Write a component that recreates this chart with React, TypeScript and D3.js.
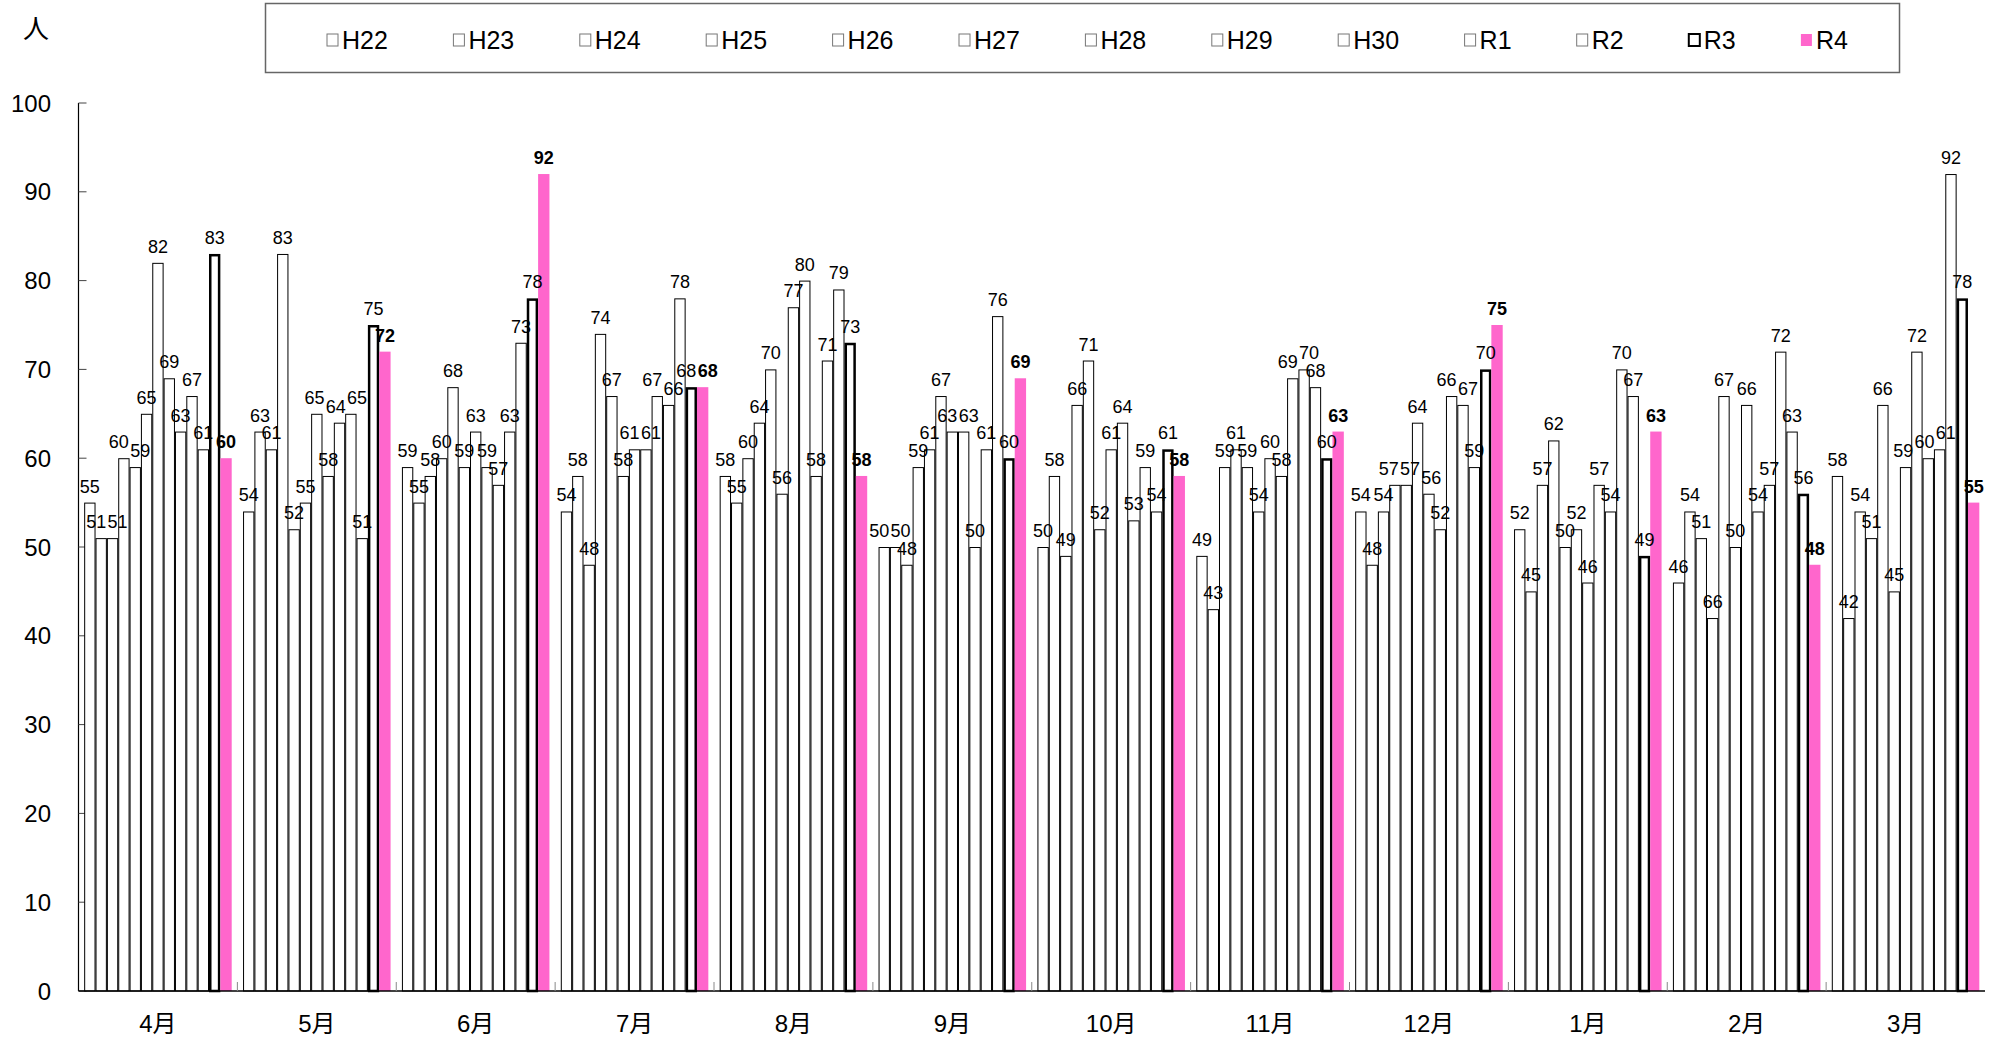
import * as d3 from "d3";

const months = ["4月", "5月", "6月", "7月", "8月", "9月", "10月", "11月", "12月", "1月", "2月", "3月"];
const series = ["H22", "H23", "H24", "H25", "H26", "H27", "H28", "H29", "H30", "R1", "R2", "R3", "R4"];

// one array per month, values in series order H22 .. R4
const apr = [55, 51, 51, 60, 59, 65, 82, 69, 63, 67, 61, 83, 60];
const may = [54, 63, 61, 83, 52, 55, 65, 58, 64, 65, 51, 75, 72];
const jun = [59, 55, 58, 60, 68, 59, 63, 59, 57, 63, 73, 78, 92];
const jul = [54, 58, 48, 74, 67, 58, 61, 61, 67, 66, 78, 68, 68];
const aug = [58, 55, 60, 64, 70, 56, 77, 80, 58, 71, 79, 73, 58];
const sep = [50, 50, 48, 59, 61, 67, 63, 63, 50, 61, 76, 60, 69];
const oct = [50, 58, 49, 66, 71, 52, 61, 64, 53, 59, 54, 61, 58];
const nov = [49, 43, 59, 61, 59, 54, 60, 58, 69, 70, 68, 60, 63];
const dec = [54, 48, 54, 57, 57, 64, 56, 52, 67, 66, 59, 70, 75];
const jan = [52, 45, 57, 62, 50, 52, 46, 57, 54, 70, 67, 49, 63];
const feb = [46, 54, 51, 42, 67, 50, 66, 54, 57, 72, 63, 56, 48];
const mar = [58, 42, 54, 51, 66, 45, 59, 72, 60, 61, 92, 78, 55];
const monthValues = [apr, may, jun, jul, aug, sep, oct, nov, dec, jan, feb, mar];

// data labels in the original that do not read the same as the bar
const labelFixes = [
  { month: "12月", series: "H30", text: "66" },
  { month: "12月", series: "R1", text: "67" },
  { month: "2月", series: "H25", text: "66" },
];

const yTicks = [0, 10, 20, 30, 40, 50, 60, 70, 80, 90, 100];

const PINK = "#ff66cc";
const FONT = "'Liberation Sans', Arial, 'Noto Sans CJK JP', sans-serif";

export default function App() {
  const width = 2006;
  const height = 1037;
  const left = 78.5;
  const right = 1985;
  const top = 103;
  const bottom = 991;

  const x0 = d3.scaleBand().domain(months).range([left, right]).padding(0);
  const x1 = d3
    .scaleBand()
    .domain(series)
    .range([0, x0.bandwidth()])
    .paddingInner(0)
    .paddingOuter(0.5);
  const y = d3.scaleLinear().domain([0, 100]).range([bottom, top]);

  const bars = months.flatMap((m, mi) =>
    series.map((s, si) => {
      const v = monthValues[mi][si];
      const fix = labelFixes.find((f) => f.month === m && f.series === s);
      const bx = (x0(m) ?? 0) + (x1(s) ?? 0);
      return { m, s, v, bx, label: fix ? fix.text : String(v) };
    })
  );

  // data labels: start centred over the bar, then push overlapping ones apart
  const labW = 21;
  const labH = 17;
  const labels = bars.map((d) => ({
    ...d,
    lx: d.bx + x1.bandwidth() / 2,
    ly: y(d.v) - 10,
  }));
  for (let it = 0; it < 80; it++) {
    for (let i = 0; i < labels.length; i++) {
      for (let j = i + 1; j < labels.length && j < i + 14; j++) {
        const a = labels[i];
        const b = labels[j];
        if (Math.abs(a.ly - b.ly) >= labH) continue;
        const dx = b.lx - a.lx;
        if (Math.abs(dx) >= labW) continue;
        const push = (labW - Math.abs(dx)) / 2 + 0.2;
        a.lx -= push;
        b.lx += push;
      }
    }
  }

  // legend layout: step grows with label length
  const legendStart = 327;
  const legendX: number[] = [];
  series.reduce((x, s) => {
    legendX.push(x);
    return x + 83.5 + 14.3 * s.length;
  }, legendStart);

  return (
    <svg
      width={width}
      height={height}
      style={{ position: "absolute", left: 0, top: 0, background: "white" }}
      fontFamily={FONT}
    >
      <text x={36} y={38} fontSize={26} textAnchor="middle">
        人
      </text>

      {/* legend */}
      <rect x={265.5} y={3.5} width={1634} height={69} fill="white" stroke="#666" strokeWidth={1.5} />
      {series.map((s, i) => (
        <g key={s} transform={`translate(${legendX[i]}, 40)`}>
          <rect
            x={0}
            y={-6}
            width={11}
            height={12}
            fill={s === "R4" ? PINK : "white"}
            stroke={s === "R4" ? "none" : s === "R3" ? "#000" : "#777"}
            strokeWidth={s === "R3" ? 2 : 1}
          />
          <text x={15} y={9} fontSize={25}>
            {s}
          </text>
        </g>
      ))}

      {/* y axis */}
      <line x1={left} x2={left} y1={top} y2={bottom} stroke="#000" strokeWidth={1.2} />
      {yTicks.map((t) => (
        <g key={t}>
          <line x1={left} x2={left + 8} y1={y(t)} y2={y(t)} stroke="#444" strokeWidth={1} />
          <text x={51} y={y(t) + 8.5} fontSize={24} textAnchor="end">
            {t}
          </text>
        </g>
      ))}

      {/* bars */}
      {bars.map((d) => {
        const w = x1.bandwidth();
        const yt = y(d.v);
        if (d.s === "R4") {
          return <rect key={d.m + d.s} x={d.bx} y={yt} width={w} height={bottom - yt} fill={PINK} />;
        }
        const bold = d.s === "R3";
        const sw = bold ? 2.5 : 1;
        return (
          <rect
            key={d.m + d.s}
            x={d.bx + sw / 2}
            y={yt + sw / 2}
            width={w - sw}
            height={bottom - yt - sw / 2}
            fill="white"
            stroke="#000"
            strokeWidth={sw}
          />
        );
      })}

      {/* data labels */}
      {labels.map((d) => (
        <text
          key={"l" + d.m + d.s}
          x={d.lx}
          y={d.ly}
          fontSize={18}
          textAnchor="middle"
          fontWeight={d.s === "R4" ? "bold" : "normal"}
        >
          {d.label}
        </text>
      ))}

      {/* x axis */}
      <line x1={left} x2={right} y1={bottom} y2={bottom} stroke="#000" strokeWidth={1.5} />
      {months.slice(1).map((m) => (
        <line
          key={"t" + m}
          x1={x0(m)}
          x2={x0(m)}
          y1={bottom}
          y2={bottom - 9}
          stroke="#888"
          strokeWidth={1}
        />
      ))}
      {months.map((m) => (
        <text
          key={"m" + m}
          x={(x0(m) ?? 0) + x0.bandwidth() / 2}
          y={1032}
          fontSize={24}
          textAnchor="middle"
        >
          {m}
        </text>
      ))}
    </svg>
  );
}
